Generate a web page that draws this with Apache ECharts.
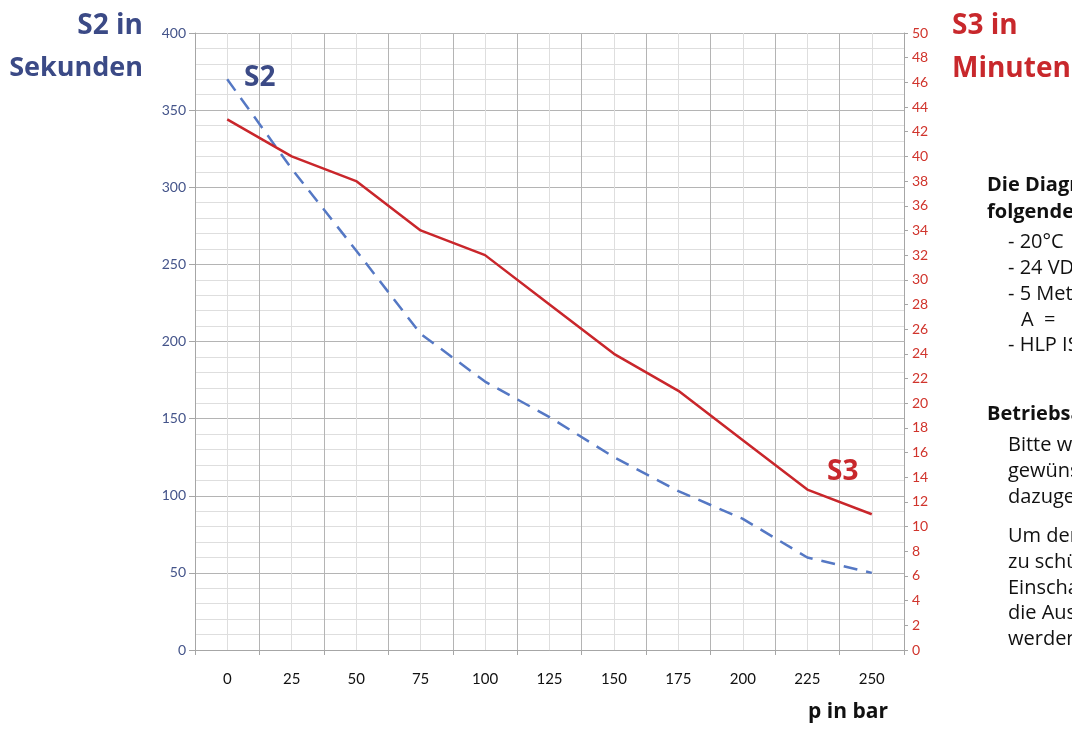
<!DOCTYPE html>
<html>
<head>
<meta charset="utf-8">
<title>S2 / S3</title>
<script src="https://cdn.jsdelivr.net/npm/echarts@6/dist/echarts.min.js"></script>
<style>
  html, body { margin: 0; padding: 0; background: #fff; }
  #main { width: 1072px; height: 729px; }
</style>
</head>
<body>
<div id="main"></div>
<script>
// Druck in bar
var pressure = ['0', '25', '50', '75', '100', '125', '150', '175', '200', '225', '250'];
// S2 in Sekunden (linke Achse)
var s2Seconds = [370, 312, 259, 205, 174, 151, 125, 103, 85, 60, 50];
// S3 in Minuten (rechte Achse)
var s3Minutes = [43, 40, 38, 34, 32, 28, 24, 21, 17, 13, 11];
// Hilfsachse fuer die hellen Linien in Kategoriemitte
var halfSteps = [];
for (var i = 0; i <= pressure.length * 2; i++) halfSteps.push(String(i));

var infoLines = [
    {t: 'Die Diagramme', b: true, x: 987, y: 185},
    {t: 'folgenden', b: true, x: 987, y: 212},
    {t: '- 20°C', x: 1008, y: 242},
    {t: '- 24 VDC', x: 1008, y: 268},
    {t: '- 5 Meter', x: 1008, y: 294},
    {t: 'A  =', x: 1021, y: 320},
    {t: '- HLP ISO', x: 1008, y: 345},
    {t: 'Betriebsart', b: true, x: 987, y: 414},
    {t: 'Bitte wählen', x: 1008, y: 445},
    {t: 'gewünschte', x: 1008, y: 471},
    {t: 'dazugehörige', x: 1008, y: 497},
    {t: 'Um den', x: 1008, y: 536},
    {t: 'zu schützen', x: 1008, y: 562},
    {t: 'Einschalt', x: 1008, y: 588},
    {t: 'die Ausgabe', x: 1008, y: 613},
    {t: 'werden', x: 1008, y: 639}
];

var navy = '#3b4a86';
var red = '#c8282c';
var font = 'Lato, "Open Sans", sans-serif';
var titleFont = '"Open Sans", "Noto Sans", sans-serif';

var myChart = echarts.init(document.getElementById('main'));

var graphics = [
    {type: 'text', right: 1072 - 143, top: 12, z: 100, style: {text: 'S2 in', fill: navy, font: 'bold 28px ' + titleFont, textAlign: 'right'}},
    {type: 'text', right: 1072 - 143, top: 55, z: 100, style: {text: 'Sekunden', fill: navy, font: 'bold 27px ' + titleFont, textAlign: 'right'}},
    {type: 'text', left: 952, top: 12, z: 100, style: {text: 'S3 in', fill: red, font: 'bold 28px ' + titleFont}},
    {type: 'text', left: 952, top: 55, z: 100, style: {text: 'Minuten', fill: red, font: 'bold 28px ' + titleFont}},
    {type: 'text', left: 244, top: 64, z: 100, style: {text: 'S2', fill: navy, font: 'bold 28px ' + titleFont}},
    {type: 'text', left: 827, top: 458, z: 100, style: {text: 'S3', fill: red, font: 'bold 28px ' + titleFont}},
    {type: 'text', left: 808, top: 702, z: 100, style: {text: 'p in bar', fill: '#111', font: 'bold 21px ' + titleFont}}
];
infoLines.forEach(function (l) {
    graphics.push({
        type: 'text', x: l.x, y: l.y, z: 100,
        style: {text: l.t, fill: '#111', font: (l.b ? 'bold ' : '') + '20px ' + titleFont, textVerticalAlign: 'middle'}
    });
});

option = {
    backgroundColor: '#fff',
    animation: false,
    grid: {left: 195, right: 168, top: 33, bottom: 79, containLabel: false},
    graphic: graphics,
    xAxis: [
        {
            type: 'category',
            data: pressure,
            boundaryGap: true,
            axisLine: {show: true, lineStyle: {color: '#a6a6a6', width: 1}},
            axisTick: {show: true, length: 5, lineStyle: {color: '#a6a6a6'}},
            axisLabel: {color: '#111', fontSize: 15, fontFamily: font, margin: 22},
            splitLine: {show: true, lineStyle: {color: '#b4b4b4', width: 1}}
        },
        {
            type: 'category',
            data: halfSteps,
            boundaryGap: false,
            position: 'bottom',
            axisLine: {show: false},
            axisTick: {show: false},
            axisLabel: {show: false},
            splitLine: {
                show: true,
                interval: function (index) { return index % 2 === 1; },
                lineStyle: {color: '#dedede', width: 1}
            }
        }
    ],
    yAxis: [
        {
            type: 'value',
            min: 0,
            max: 400,
            interval: 50,
            position: 'left',
            axisLine: {show: true, lineStyle: {color: '#a6a6a6'}},
            axisTick: {show: true, length: 6, lineStyle: {color: '#a6a6a6'}},
            axisLabel: {color: '#44548a', fontSize: 14, fontFamily: font, margin: 9},
            splitLine: {show: true, lineStyle: {color: '#b4b4b4', width: 1}},
            minorTick: {show: false, splitNumber: 5},
            minorSplitLine: {show: true, lineStyle: {color: '#dedede', width: 1}}
        },
        {
            type: 'value',
            min: 0,
            max: 50,
            interval: 2,
            position: 'right',
            axisLine: {show: true, lineStyle: {color: '#a6a6a6'}},
            axisTick: {show: true, length: 4, lineStyle: {color: '#a6a6a6'}},
            axisLabel: {color: '#d0342c', fontSize: 14, fontFamily: font, margin: 8},
            splitLine: {show: false}
        }
    ],
    series: [
        {
            name: 'S2',
            type: 'line',
            xAxisIndex: 0,
            yAxisIndex: 0,
            data: s2Seconds,
            symbol: 'none',
            lineStyle: {color: '#5578c4', width: 2.5, type: [14, 9]},
            z: 3
        },
        {
            name: 'S3',
            type: 'line',
            xAxisIndex: 0,
            yAxisIndex: 1,
            data: s3Minutes,
            symbol: 'none',
            lineStyle: {color: '#c9262b', width: 2.5},
            z: 4
        }
    ]
};

myChart.setOption(option);
</script>
</body>
</html>
